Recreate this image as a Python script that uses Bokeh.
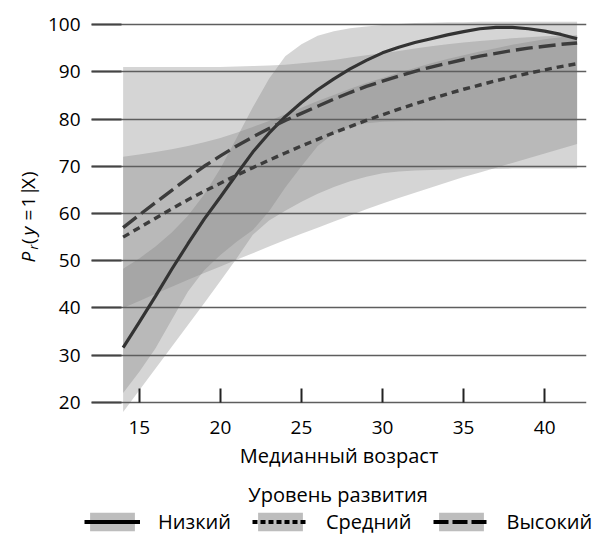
import math
from bokeh.plotting import figure
from bokeh.layouts import column, row
from bokeh.models import FixedTicker, Legend, LegendItem, ColumnDataSource, Label
from bokeh.embed import file_html
from bokeh.resources import INLINE
from bokeh.core.properties import value

# ---------------- data ----------------
age = [14, 15, 16, 17, 18, 19, 20, 21, 22, 23, 24, 25, 26, 27, 28,
       29, 30, 31, 32, 33, 34, 35, 36, 37, 38, 39, 40, 41, 42]

# Низкий (solid)
low_line = [31.6, 37.0, 42.5, 48.2, 53.6, 58.8, 63.5, 68.3, 73.0, 77.0, 80.5, 83.5, 86.2, 88.5, 90.6,
            92.4, 94.0, 95.2, 96.2, 97.0, 97.8, 98.5, 99.1, 99.4, 99.4, 99.1, 98.6, 97.9, 97.0]
low_lo = [18.0, 22.6, 27.2, 31.8, 36.4, 41.0, 45.7, 50.5, 55.5, 58.5, 60.6, 62.5, 64.2, 65.6, 66.8,
          67.8, 68.5, 68.9, 69.1, 69.2, 69.3, 69.4, 69.4, 69.4, 69.5, 69.5, 69.5, 69.5, 69.5]
low_hi = [48.3, 50.5, 53.0, 56.0, 59.5, 64.0, 69.5, 76.0, 82.5, 88.5, 93.3, 95.8, 97.6, 98.6, 99.2,
          99.6, 99.9, 100.1, 100.3, 100.4, 100.5, 100.5, 100.6, 100.6, 100.6, 100.6, 100.6, 100.6, 100.6]

# Средний (short dashes)
mid_line = [55.0, 57.0, 59.0, 61.0, 62.9, 64.7, 66.4, 68.1, 69.7, 71.3, 72.8, 74.3, 75.7, 77.1, 78.4,
            79.7, 80.9, 82.1, 83.2, 84.3, 85.3, 86.3, 87.2, 88.1, 88.9, 89.7, 90.4, 91.1, 91.7]
mid_lo = [40.0, 41.5, 43.0, 44.5, 46.0, 47.4, 48.8, 50.2, 51.6, 53.0, 54.4, 55.7, 57.0, 58.3, 59.6,
          60.9, 62.1, 63.3, 64.4, 65.5, 66.6, 67.7, 68.7, 69.7, 70.7, 71.7, 72.7, 73.7, 74.7]
mid_hi = [72.0, 72.5, 73.0, 73.6, 74.3, 75.1, 76.0, 77.1, 78.3, 79.6, 81.0, 82.4, 83.8, 85.1, 86.4,
          87.6, 88.7, 89.8, 90.8, 91.8, 92.7, 93.5, 94.3, 95.0, 95.7, 96.3, 96.9, 97.3, 97.7]

# Высокий (long dashes)
high_line = [57.0, 59.7, 62.3, 64.9, 67.5, 70.0, 72.2, 74.3, 76.2, 78.0, 79.7, 81.2, 82.7, 84.2, 85.6,
             86.9, 88.0, 89.1, 90.1, 91.0, 91.8, 92.6, 93.3, 93.9, 94.5, 95.0, 95.4, 95.8, 96.1]
high_lo = [22.0, 26.5, 31.5, 37.5, 43.5, 48.0, 51.2, 54.0, 56.5, 60.5, 65.5, 70.0, 74.3, 77.0, 78.4,
           79.1, 79.4, 79.5, 79.6, 79.6, 79.7, 79.7, 79.7, 79.7, 79.7, 79.7, 79.7, 79.7, 79.7]
high_hi = [91.0, 91.0, 91.0, 91.0, 91.0, 91.0, 91.0, 91.1, 91.2, 91.3, 91.5, 91.8, 92.1, 92.5, 93.0,
           93.5, 93.9, 94.4, 94.9, 95.4, 95.8, 96.2, 96.5, 96.8, 97.1, 97.3, 97.5, 97.6, 97.7]

levels = ["Низкий", "Средний", "Высокий"]
legend_title = "Уровень развития"
x_label = "Медианный возраст"
x_ticks = [15, 20, 25, 30, 35, 40]
y_ticks = [20, 30, 40, 50, 60, 70, 80, 90, 100]

FONT = "Open Sans"
BAND = "#808080"
LINE = "#3c3c3c"

W, H_MAIN, H_LEG, W_LEFT = 593, 480, 54, 44
TOP, BOTTOM = 20, 68          # borders of the main plot (the side strip's frame is aligned to them)
FRAME_BOTTOM = H_MAIN - BOTTOM


def bare(fig):
    fig.outline_line_color = None
    fig.xaxis.visible = False
    fig.yaxis.visible = False
    fig.xgrid.visible = False
    fig.ygrid.visible = False
    fig.background_fill_color = "white"
    fig.border_fill_color = "white"


# ---------------- main plot ----------------
p = figure(width=W - W_LEFT, height=H_MAIN, x_range=(12.05, 42.58), y_range=(17.88, 100.85),
           output_backend="svg", toolbar_location=None,
           min_border_left=45, min_border_right=7, min_border_top=TOP, min_border_bottom=BOTTOM)
p.outline_line_color = None
p.background_fill_color = "white"
p.border_fill_color = "white"

for lo, hi in [(low_lo, low_hi), (mid_lo, mid_hi), (high_lo, high_hi)]:
    r = p.varea(x=age, y1=lo, y2=hi, fill_color=BAND, fill_alpha=0.33)
    r.level = "image"

p.line(age, low_line, line_color="#333333", line_width=3.2)
p.line(age, mid_line, line_color=LINE, line_width=3.4, line_dash="7 5")
p.line(age, high_line, line_color=LINE, line_width=3.4, line_dash="17 6")

p.xgrid.visible = False
p.ygrid.ticker = FixedTicker(ticks=y_ticks)
p.ygrid.grid_line_color = "#5e5e5e"
p.ygrid.grid_line_width = 1.7

p.yaxis.ticker = FixedTicker(ticks=y_ticks)
p.yaxis.axis_line_color = None
p.yaxis.major_tick_out = 0
p.yaxis.major_tick_in = 30
p.yaxis.major_tick_line_color = "#444444"
p.yaxis.major_tick_line_width = 1.9
p.yaxis.minor_tick_line_color = None
p.yaxis.major_label_standoff = 11
p.yaxis.major_label_text_font = FONT
p.yaxis.major_label_text_font_size = "19px"
p.yaxis.major_label_text_color = "black"

p.xaxis.ticker = FixedTicker(ticks=x_ticks)
p.xaxis.axis_line_color = None
p.xaxis.major_tick_in = 24
p.xaxis.major_tick_out = -10
p.xaxis.major_tick_line_color = "#222222"
p.xaxis.major_tick_line_width = 2
p.xaxis.minor_tick_line_color = None
p.xaxis.major_label_standoff = 8
p.xaxis.major_label_text_font = FONT
p.xaxis.major_label_text_font_size = "19px"
p.xaxis.major_label_text_color = "black"
p.xaxis.axis_label = x_label
p.xaxis.axis_label_text_font = FONT
p.xaxis.axis_label_text_font_size = "20px"
p.xaxis.axis_label_text_font_style = "normal"
p.xaxis.axis_label_text_color = "black"
p.xaxis.axis_label_standoff = 5

# ---------------- rotated y label: P_r (y = 1|X) ----------------
yl = figure(width=W_LEFT, height=H_MAIN, x_range=(0, W_LEFT), y_range=(0, 1),
            output_backend="svg", toolbar_location=None,
            min_border_left=0, min_border_right=0, min_border_top=TOP, min_border_bottom=BOTTOM)
bare(yl)
# pieces: (text, baseline x, start position measured from the top of the page, style, size)
ypieces = [
    ("P", 27.5, 262.0, "italic", "19px"),
    ("r", 33.0, 249.0, "italic", "12px"),
    ("(", 27.5, 243.5, "normal", "19px"),
    ("y", 27.5, 235.0, "italic", "19px"),
    ("=", 27.5, 220.0, "normal", "19px"),
    ("1", 27.5, 207.0, "normal", "19px"),
    ("|", 27.5, 195.5, "normal", "19px"),
    ("X", 27.5, 188.5, "normal", "19px"),
    (")", 27.5, 176.5, "normal", "19px"),
]
for txt, bx, top_y, style, size in ypieces:
    yl.add_layout(Label(x=bx, y=FRAME_BOTTOM - top_y, x_units="screen", y_units="screen", text=txt,
                        angle=math.pi / 2, text_align="left", text_baseline="alphabetic",
                        text_font=FONT, text_font_size=size, text_font_style=style,
                        text_color="black"))

# ---------------- legend strip ----------------
lg = figure(width=W, height=H_LEG, x_range=(0, W), y_range=(0, H_LEG),
            output_backend="svg", toolbar_location=None,
            min_border_left=0, min_border_right=0, min_border_top=0, min_border_bottom=0)
bare(lg)
lg.text(x=[337.5], y=[H_LEG - 14], text=[legend_title], text_align="center", text_baseline="middle",
        text_font=value(FONT), text_font_size=value("20px"), text_color="black")

nan = float("nan")
items = []
for name, dash in zip(levels, ["solid", "5 3", "15 4"]):
    src = ColumnDataSource(data=dict(x=[nan], y=[nan], y1=[nan], y2=[nan]))
    kb = lg.varea(x="x", y1="y1", y2="y2", source=src, fill_color="#bdbdbd", fill_alpha=1.0)
    kl = lg.line(x="x", y="y", source=src, line_color="black", line_width=4, line_dash=dash)
    items.append(LegendItem(label=name, renderers=[kb, kl]))

legend = Legend(items=items, orientation="horizontal", location=(84, -1),
                glyph_width=56, glyph_height=23, label_standoff=18, spacing=21,
                padding=0, margin=0, border_line_color=None, background_fill_alpha=0,
                label_text_font=FONT, label_text_font_size="20px", label_text_color="black",
                label_text_baseline="middle")
lg.add_layout(legend, "center")

layout = column(row(yl, p, spacing=0), lg, spacing=0)
open("out.html", "w").write(file_html(layout, INLINE))
